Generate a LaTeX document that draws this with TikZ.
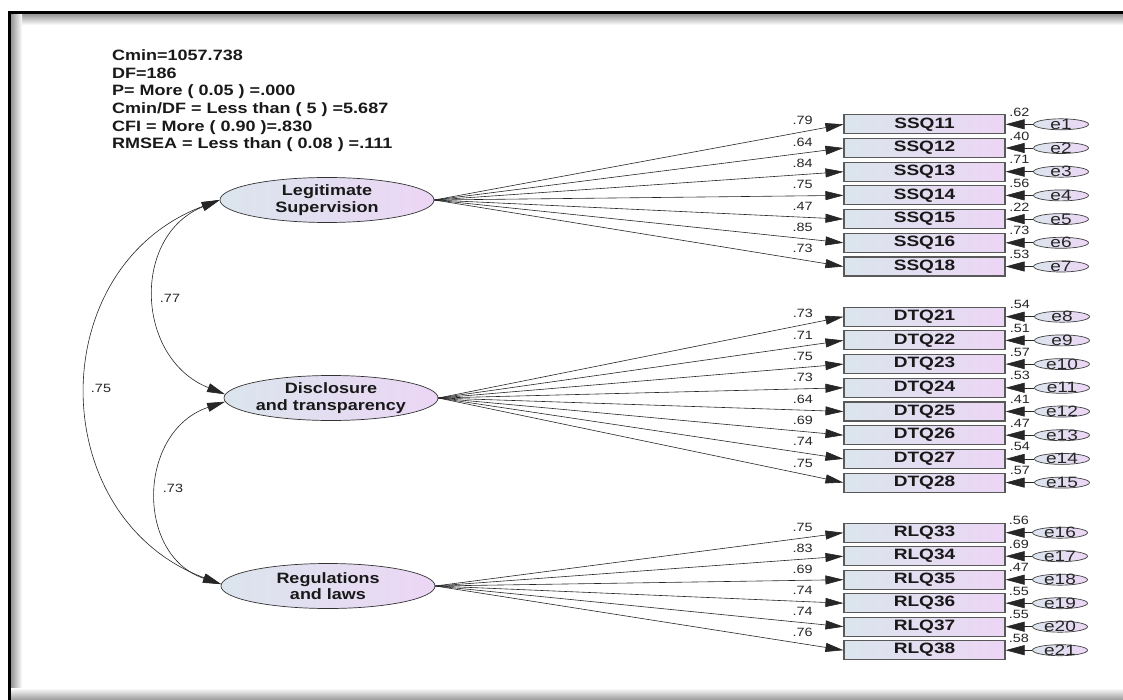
\documentclass[tikz,border=0pt]{standalone}
\usepackage{fontspec}
\setmainfont{Liberation Sans}[FakeStretch=1.2]
\newfontfamily\boxfont{Liberation Sans}[FakeStretch=1.27]
\usetikzlibrary{shapes.geometric,arrows.meta}
\definecolor{lc}{RGB}{219,229,237}
\definecolor{rc}{RGB}{236,214,245}
\tikzset{
  latent/.style={ellipse, draw=black!80, line width=0.7pt, left color=lc, right color=rc,
    minimum width=214pt, minimum height=45pt, inner sep=0pt, align=center,
    font=\fontsize{15}{16.5}\selectfont\bfseries, text=black!90},
  obs/.style={rectangle, draw=black!65, line width=1.1pt, left color=lc, right color=rc,
    minimum width=161pt, minimum height=19pt, inner sep=0pt,
    font=\boxfont\fontsize{15}{16}\selectfont\bfseries, text=black!90},
  errnode/.style={ellipse, draw=black!75, line width=0.7pt, left color=lc, right color=rc,
    minimum width=55pt, minimum height=11pt, inner sep=0pt},
  elab/.style={font=\boxfont\fontsize{15}{16}\selectfont, text=black!85, inner sep=0pt},
  num/.style={font=\fontsize{12}{13}\selectfont, text=black!85, inner sep=0pt},
  fit/.style={font=\fontsize{15}{17}\selectfont\bfseries, text=black!90, inner sep=0pt, anchor=base west},
  load/.style={draw=black!85, line width=0.6pt, -{Triangle[length=18pt,width=9pt]}},
  errarr/.style={draw=black!85, line width=0.6pt, -{Triangle[length=19pt,width=10pt]}},
  corr/.style={draw=black!85, line width=0.6pt, {Triangle[length=18pt,width=9pt]}-{Triangle[length=18pt,width=9pt]}}
}
\begin{document}
\begin{tikzpicture}[x=1pt,y=-1pt]
\useasboundingbox (0,0) rectangle (1123,700);
\fill[white] (0,0) rectangle (1123,700);
% frame
\shade[top color=black!45, bottom color=white] (10,13) rectangle (1123,25);
\shade[left color=black!45, right color=white] (10,13) rectangle (22,700);
\shade[top color=white, bottom color=black!40] (10,688) rectangle (1123,700);
\fill[black] (8,11) rectangle (1123,14);
\fill[black] (8,11) rectangle (11,700);

% fit indices
\node[fit] (t1) at (112,60.4) {Cmin=1057.738};
\node[fit] (t2) at (112,78.1) {DF=186};
\node[fit] (t3) at (112,95.8) {P= More ( 0.05 ) =.000};
\node[fit] (t4) at (112,113.5) {Cmin/DF = Less than ( 5 ) =5.687};
\node[fit] (t5) at (112,131.2) {CFI = More ( 0.90 )=.830};
\node[fit] (t6) at (112,148.9) {RMSEA = Less than ( 0.08 ) =.111};

% latent variables
\node[latent] (LS) at (327,200) {Legitimate\\Supervision};
\node[latent] (DT) at (331,398) {Disclosure\\and transparency};
\node[latent] (RL) at (328,586) {Regulations\\and laws};

% SSQ
\foreach \n/\lab/\ld/\rs [count=\k from 0] in {1/SSQ11/.79/.62, 2/SSQ12/.64/.40, 3/SSQ13/.84/.71, 4/SSQ14/.75/.56, 5/SSQ15/.47/.22, 6/SSQ16/.85/.73, 7/SSQ18/.73/.53}{
  \pgfmathsetmacro\yy{124.3+23.7*\k}
  \node[obs] (b\n) at (924.5,\yy) {\lab};
  \node[errnode, label={[elab]center:e\n}] (e\n) at (1061,\yy) {};
  \draw[load] (LS.east) -- (b\n.west) node[num, pos=0.9, yshift=11pt] (l\n) {\ld};
  \draw[errarr] (e\n.west) -- (b\n.east) node[num, pos=0.5, yshift=12pt] (r\n) {\rs};
}
% DTQ
\foreach \n/\lab/\ld/\rs [count=\k from 0] in {8/DTQ21/.73/.54, 9/DTQ22/.71/.51, 10/DTQ23/.75/.57, 11/DTQ24/.73/.53, 12/DTQ25/.64/.41, 13/DTQ26/.69/.47, 14/DTQ27/.74/.54, 15/DTQ28/.75/.57}{
  \pgfmathsetmacro\yy{316.7+23.7*\k}
  \node[obs] (b\n) at (924.5,\yy) {\lab};
  \node[errnode, label={[elab]center:e\n}] (e\n) at (1062,\yy) {};
  \draw[load] (DT.east) -- (b\n.west) node[num, pos=0.9, yshift=11pt] (l\n) {\ld};
  \draw[errarr] (e\n.west) -- (b\n.east) node[num, pos=0.5, yshift=12pt] (r\n) {\rs};
}
% RLQ
\foreach \n/\lab/\ld/\rs [count=\k from 0] in {16/RLQ33/.75/.56, 17/RLQ34/.83/.69, 18/RLQ35/.69/.47, 19/RLQ36/.74/.55, 20/RLQ37/.74/.55, 21/RLQ38/.76/.58}{
  \pgfmathsetmacro\yy{532.7+23.5*\k}
  \node[obs] (b\n) at (924.5,\yy) {\lab};
  \node[errnode, label={[elab]center:e\n}] (e\n) at (1060,\yy) {};
  \draw[load] (RL.east) -- (b\n.west) node[num, pos=0.9, yshift=11pt] (l\n) {\ld};
  \draw[errarr] (e\n.west) -- (b\n.east) node[num, pos=0.5, yshift=12pt] (r\n) {\rs};
}

% correlations
\draw[corr] (LS.west) .. controls (131.2,235.5) and (135.2,358.5) .. (DT.178);
\draw[corr] (LS.west) .. controls (42.4,266.6) and (43.4,517.4) .. (RL.179);
\draw[corr] (DT.182) .. controls (137.6,430.8) and (134.6,555.2) .. (RL.179);
\node[num] (c77) at (170,298) {.77};
\node[num] (c75) at (101,388) {.75};
\node[num] (c73) at (173,488) {.73};
\end{tikzpicture}
\end{document}
